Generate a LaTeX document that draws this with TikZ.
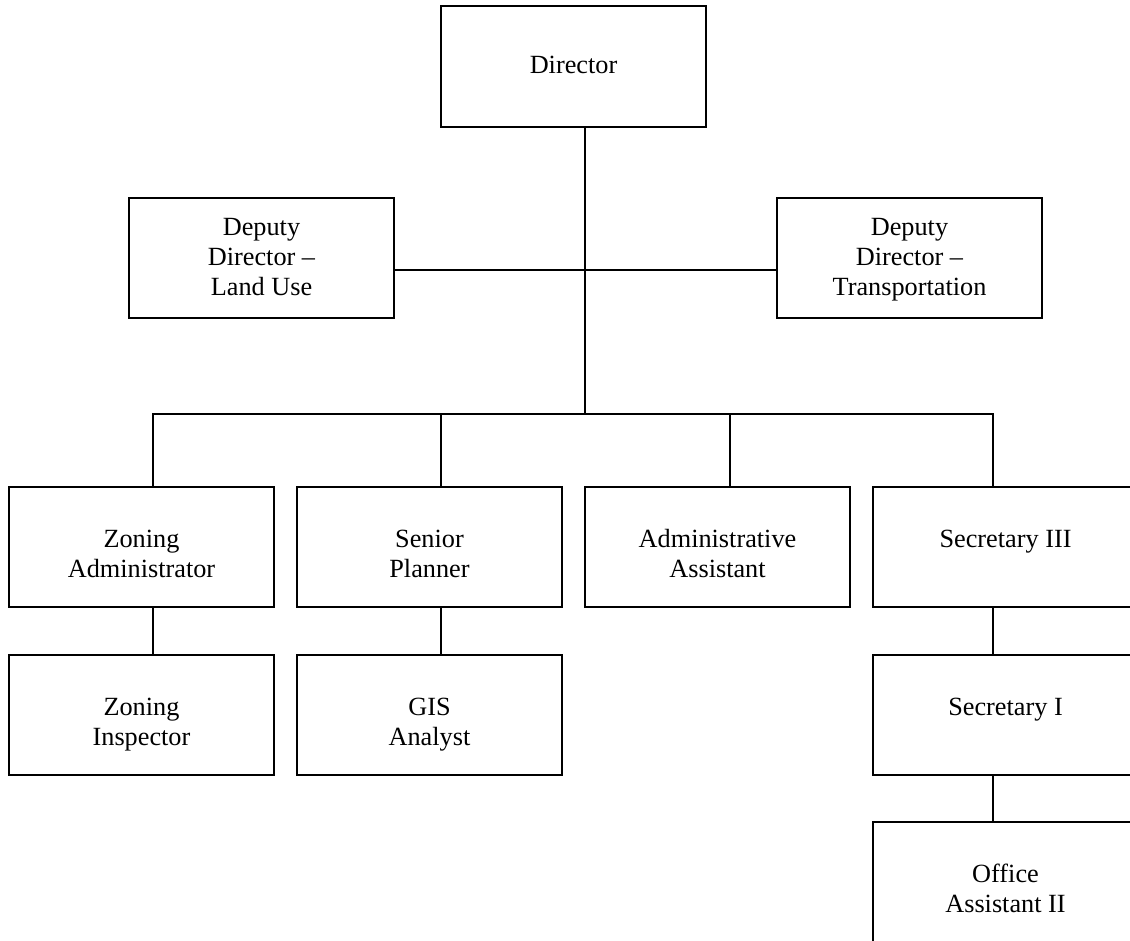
\documentclass[tikz,border=0pt]{standalone}
\usepackage{fontspec}
\setmainfont{Liberation Serif}
\usetikzlibrary{calc}
% centred lines whose reference point is the first baseline
\newcommand\boxlines[1]{\begin{tabular}[t]{@{}c@{}}#1\end{tabular}}
\begin{document}
\begin{tikzpicture}[x=0.75pt,y=-0.75pt,
  box/.style={draw=black, line width=1.5pt, minimum width=198.75pt, minimum height=90pt, inner sep=0pt},
  caption/.style={anchor=base, inner sep=0pt, font=\fontsize{19.7}{22.5}\selectfont},
  wire/.style={draw=black, line width=1.2pt}]
\useasboundingbox (0,0) rectangle (1130,940);
\fill[white] (0,0) rectangle (1130,940);
\clip (0,0) rectangle (1130,940);

% levels of the horizontal connectors
\coordinate (deputyY) at (0,270);
\coordinate (busY) at (0,414);

% boxes
\node[box, minimum height=90.75pt] (dir) at (573.5,66.5) {};
\node[box] (dl)  at (261.5,258) {};
\node[box] (dr)  at (909.5,258) {};
\node[box] (za)  at (141.5,547) {};
\node[box] (sp)  at (429.5,547) {};
\node[box] (aa)  at (717.5,547) {};
\node[box] (s3)  at (1005.5,547) {};
\node[box] (zi)  at (141.5,715) {};
\node[box] (gis) at (429.5,715) {};
\node[box] (s1)  at (1005.5,715) {};
\node[box] (oa)  at (1005.5,882) {};

% titles
\node[caption] (dirT) at (573.5,73) {Director};
\node[caption] (dlT)  at (261.5,235) {\boxlines{Deputy\\Director –\\Land Use}};
\node[caption] (drT)  at (909.5,235) {\boxlines{Deputy\\Director –\\Transportation}};
\node[caption] (zaT)  at (141.5,547) {\boxlines{Zoning\\Administrator}};
\node[caption] (spT)  at (429.5,547) {\boxlines{Senior\\Planner}};
\node[caption] (aaT)  at (717.5,547) {\boxlines{Administrative\\Assistant}};
\node[caption] (s3T)  at (1005.5,547) {Secretary III};
\node[caption] (ziT)  at (141.5,715) {\boxlines{Zoning\\Inspector}};
\node[caption] (gisT) at (429.5,715) {\boxlines{GIS\\Analyst}};
\node[caption] (s1T)  at (1005.5,715) {Secretary I};
\node[caption] (oaT)  at (1005.5,882) {\boxlines{Office\\Assistant II}};

% trunk from the director down to the bus
\draw[wire] ($(dir.south)+(11.5,0)$) coordinate (t) -- (t |- busY);
% deputies
\draw[wire] (dl.east |- deputyY) -- (dr.west |- deputyY);
% drops to the first row
\path ($(za.north)+(11.5,0)$) coordinate (dza)
      ($(sp.north)+(11.5,0)$) coordinate (dsp)
      ($(aa.north)+(12.5,0)$) coordinate (daa)
      ($(s3.north)+(-12.5,0)$) coordinate (ds3);
\draw[wire] (dza) -- (dza |- busY) -- (ds3 |- busY) -- (ds3);
\draw[wire] (dsp) -- (dsp |- busY);
\draw[wire] (daa) -- (daa |- busY);
% lower links
\draw[wire] ($(za.south)+(11.5,0)$) -- ($(zi.north)+(11.5,0)$);
\draw[wire] ($(sp.south)+(11.5,0)$) -- ($(gis.north)+(11.5,0)$);
\draw[wire] ($(s3.south)+(-12.5,0)$) -- ($(s1.north)+(-12.5,0)$);
\draw[wire] ($(s1.south)+(-12.5,0)$) -- ($(oa.north)+(-12.5,0)$);
\end{tikzpicture}
\end{document}
